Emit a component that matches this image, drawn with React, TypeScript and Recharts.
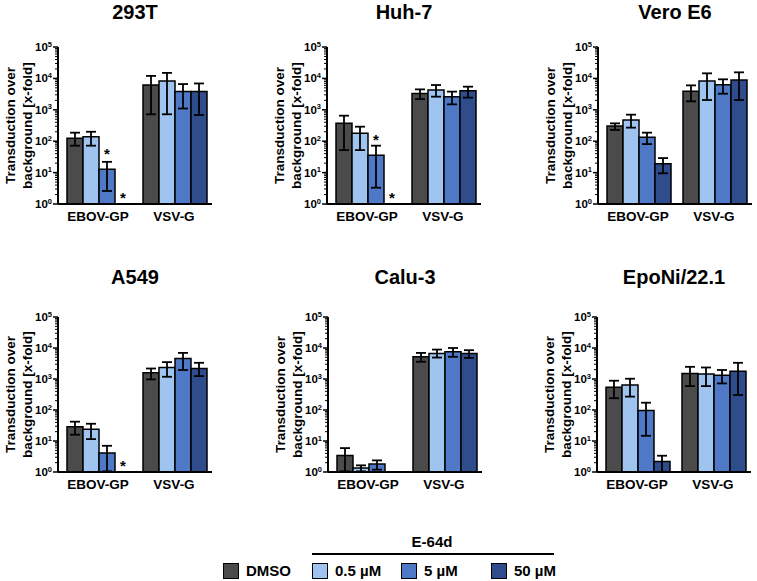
import React from "react";
import { BarChart, Bar, XAxis, YAxis, ErrorBar, LabelList } from "recharts";

const CATEGORIES = ["EBOV-GP", "VSV-G"];
const SERIES = ["DMSO", "0.5 µM", "5 µM", "50 µM"];
const COLORS = ["#4b4b4b", "#9fc4f0", "#4f79c6", "#2f4d8c"];
const MAJOR_TICKS = [1, 10, 100, 1000, 10000, 100000];
const MINOR_STEPS = [2, 3, 4, 5, 6, 7, 8, 9];
const Y_LABEL = ["Transduction over", "background [x-fold]"];

// rows = series (DMSO, 0.5, 5, 50 µM), columns = categories (EBOV-GP, VSV-G)
const T293_MEAN = [[124, 6200], [139, 8300], [12.7, 3800], [null, 3800]];
const T293_LOW = [[72, 720], [72, 720], [2.6, 1100], [null, 680]];
const T293_HIGH = [[187, 12000], [200, 15000], [22, 6600], [null, 6900]];
const T293_STARS = ["both", ""];

const HUH7_MEAN = [[370, 3330], [178, 4270], [36, 2620], [null, 4050]];
const HUH7_LOW = [[52, 2200], [52, 2620], [3.3, 1490], [null, 2440]];
const HUH7_HIGH = [[650, 4470], [290, 6150], [72, 3790], [null, 5450]];
const HUH7_STARS = ["both", ""];

const VERO_MEAN = [[305, 3900], [475, 8300], [133, 6300], [19, 8900]];
const VERO_LOW = [[228, 1860], [270, 2050], [81, 3250], [9.5, 2050]];
const VERO_HIGH = [[370, 6000], [700, 14500], [187, 9350], [29, 15600]];
const VERO_STARS = ["", ""];

const A549_MEAN = [[29, 1590], [24, 2350], [4.1, 4600], [null, 2190]];
const A549_LOW = [[16, 970], [11.5, 1180], [1.05, 1950], [null, 1240]];
const A549_HIGH = [[42, 2180], [36, 3500], [7, 6950], [null, 3330]];
const A549_STARS = ["base", ""];

const CALU3_MEAN = [[3.4, 5200], [1.34, 6650], [1.8, 7550], [null, 6650]];
const CALU3_LOW = [[1.05, 3600], [1.05, 4920], [1.19, 5200], [null, 4800]];
const CALU3_HIGH = [[5.9, 6950], [1.64, 8900], [2.37, 10000], [null, 8500]];
const CALU3_STARS = ["", ""];

const EPONI_MEAN = [[540, 1510], [640, 1440], [96, 1310], [2.2, 1790]];
const EPONI_LOW = [[240, 590], [270, 590], [14.7, 720], [1.02, 305]];
const EPONI_HIGH = [[880, 2470], [1020, 2350], [172, 1950], [3.35, 3330]];
const EPONI_STARS = ["", ""];

const FONT = '"Liberation Sans", Arial, sans-serif';
const YAXIS_W = 58;
const PLOT_W = 154;

const ALL_TICKS = MAJOR_TICKS.flatMap((t, i) =>
  i < MAJOR_TICKS.length - 1 ? [t, ...MINOR_STEPS.map((m) => m * t)] : [t]
);

const buildRows = (mean, low, high, stars) =>
  CATEGORIES.map((cat, c) => {
    const row: any = { cat, mark: stars[c] };
    SERIES.forEach((_, s) => {
      const v = mean[s][c];
      row[`s${s}`] = v;
      row[`e${s}`] = v == null ? null : [v - low[s][c], high[s][c] - v];
    });
    return row;
  });

const PANELS = [
  { title: "293T", rows: buildRows(T293_MEAN, T293_LOW, T293_HIGH, T293_STARS), axisX: 58, plotTop: 47, plotH: 157, titleY: 12 },
  { title: "Huh-7", rows: buildRows(HUH7_MEAN, HUH7_LOW, HUH7_HIGH, HUH7_STARS), axisX: 327, plotTop: 47, plotH: 157, titleY: 12 },
  { title: "Vero E6", rows: buildRows(VERO_MEAN, VERO_LOW, VERO_HIGH, VERO_STARS), axisX: 598, plotTop: 47, plotH: 157, titleY: 12 },
  { title: "A549", rows: buildRows(A549_MEAN, A549_LOW, A549_HIGH, A549_STARS), axisX: 58, plotTop: 317, plotH: 155, titleY: 277 },
  { title: "Calu-3", rows: buildRows(CALU3_MEAN, CALU3_LOW, CALU3_HIGH, CALU3_STARS), axisX: 328, plotTop: 317, plotH: 155, titleY: 277 },
  { title: "EpoNi/22.1", rows: buildRows(EPONI_MEAN, EPONI_LOW, EPONI_HIGH, EPONI_STARS), axisX: 597, plotTop: 317, plotH: 155, titleY: 277 },
];

const LogTick = (props: any) => {
  const { x, y, payload } = props;
  const v = payload.value;
  const exp = Math.round(Math.log10(v));
  const major = Math.abs(v - Math.pow(10, exp)) < 1e-6 * v;
  return (
    <g>
      <line x1={x - (major ? 5 : 3)} x2={x} y1={y} y2={y} stroke="#000" strokeWidth={major ? 1.5 : 1} />
      {major && (
        <text x={x - 6} y={y + 4} textAnchor="end" fontSize={11.5} fontWeight={700} fill="#000" fontFamily={FONT}>
          10
          <tspan dy={-4.5} fontSize={7.5}>{exp}</tspan>
        </text>
      )}
    </g>
  );
};

const YLabel = (props: any) => {
  const vb = props.viewBox;
  const cy = vb.y + vb.height / 2;
  return (
    <g>
      {Y_LABEL.map((t, i) => (
        <text
          key={t}
          x={0}
          y={0}
          transform={`translate(${vb.x + 15 + i * 17},${cy}) rotate(-90)`}
          textAnchor="middle"
          fontSize={13.5}
          fontWeight={700}
          fill="#000"
          fontFamily={FONT}
        >
          {t}
        </text>
      ))}
    </g>
  );
};

// asterisks drawn from the 5 µM bar: above it, and at the base of the empty 50 µM slot
const Stars = (props: any) => {
  const { viewBox, value } = props;
  if (!value || !viewBox) return null;
  const { x, y, width, height } = viewBox;
  const style = { fontSize: 15, fontWeight: 700, fill: "#000", fontFamily: FONT };
  return (
    <g>
      {(value === "top" || value === "both") && (
        <text x={x + width / 2} y={y - 10} textAnchor="middle" {...style}>*</text>
      )}
      {(value === "base" || value === "both") && (
        <text x={x + width * 1.5} y={y + height - 1} textAnchor="middle" {...style}>*</text>
      )}
    </g>
  );
};

const Panel = ({ p }: { p: any }) => (
  <>
    <div
      style={{
        position: "absolute",
        left: p.axisX + PLOT_W / 2 - 100,
        top: p.titleY - 12,
        width: 200,
        lineHeight: "24px",
        textAlign: "center",
        fontSize: 20,
        fontWeight: 700,
      }}
    >
      {p.title}
    </div>
    <div style={{ position: "absolute", left: p.axisX - YAXIS_W, top: p.plotTop - 10 }}>
      <BarChart
        width={YAXIS_W + PLOT_W + 4}
        height={10 + p.plotH + 32}
        data={p.rows}
        margin={{ top: 10, right: 4, bottom: 0, left: 0 }}
        barCategoryGap={7}
        barGap={0}
      >
        <XAxis
          dataKey="cat"
          tickLine={false}
          tickSize={0}
          tickMargin={7}
          axisLine={{ stroke: "#000", strokeWidth: 2 }}
          tick={{ fill: "#000", fontSize: 13.5, fontWeight: 700, fontFamily: FONT }}
          height={32}
          padding={{ left: 2, right: 0 }}
        />
        <YAxis
          type="number"
          scale="log"
          domain={[1, 100000]}
          allowDataOverflow
          ticks={ALL_TICKS}
          interval={0}
          width={YAXIS_W}
          tickLine={false}
          tickSize={0}
          tickMargin={0}
          axisLine={{ stroke: "#000", strokeWidth: 2 }}
          tick={<LogTick />}
          label={{ content: <YLabel /> }}
        />
        {SERIES.map((s, i) => (
          <Bar key={s} dataKey={`s${i}`} name={s} fill={COLORS[i]} stroke="#000" strokeWidth={1.5} isAnimationActive={false}>
            <ErrorBar dataKey={`e${i}`} width={5} stroke="#000" strokeWidth={1.8} />
            {i === 2 && <LabelList dataKey="mark" content={<Stars />} />}
          </Bar>
        ))}
      </BarChart>
    </div>
  </>
);

const LEGEND_X = [223, 312, 401, 491];

export default function App() {
  return (
    <div
      style={{
        position: "absolute",
        left: 0,
        top: 0,
        width: 757,
        height: 581,
        background: "#fff",
        fontFamily: FONT,
        color: "#000",
      }}
    >
      {PANELS.map((p) => (
        <Panel key={p.title} p={p} />
      ))}
      <div
        style={{
          position: "absolute",
          left: 332,
          top: 532,
          width: 200,
          textAlign: "center",
          fontSize: 15,
          fontWeight: 700,
          lineHeight: "20px",
        }}
      >
        E-64d
      </div>
      <div style={{ position: "absolute", left: 312, top: 553, width: 242, height: 2, background: "#000" }} />
      {SERIES.map((s, i) => (
        <div
          key={s}
          style={{
            position: "absolute",
            left: LEGEND_X[i],
            top: 562,
            display: "flex",
            alignItems: "center",
            fontSize: 15,
            fontWeight: 700,
            lineHeight: "18px",
          }}
        >
          <span
            style={{
              display: "inline-block",
              width: 14,
              height: 14,
              background: COLORS[i],
              border: "1.5px solid #000",
              marginRight: 7,
            }}
          />
          {s}
        </div>
      ))}
    </div>
  );
}
